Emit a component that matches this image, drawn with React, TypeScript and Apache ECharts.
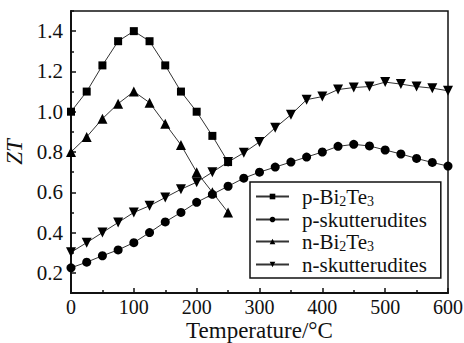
import React, { useEffect, useRef } from "react";
import * as echarts from "echarts";

const temps = [0, 25, 50, 75, 100, 125, 150, 175, 200, 225, 250, 275, 300, 325, 350, 375, 400, 425, 450, 475, 500, 525, 550, 575, 600];
const pBiTe = [1.0, 1.1, 1.23, 1.35, 1.4, 1.35, 1.23, 1.1, 1.0, 0.88, 0.75];
const nBiTe = [0.8, 0.875, 0.965, 1.04, 1.1, 1.045, 0.94, 0.835, 0.7, 0.6, 0.5];
const pSkut = [0.225, 0.253, 0.285, 0.314, 0.35, 0.4, 0.453, 0.5, 0.55, 0.59, 0.63, 0.67, 0.7, 0.725, 0.75, 0.775, 0.8, 0.828, 0.838, 0.83, 0.81, 0.79, 0.768, 0.748, 0.73];
const nSkut = [0.302, 0.35, 0.4, 0.45, 0.5, 0.533, 0.574, 0.615, 0.65, 0.7, 0.75, 0.796, 0.85, 0.92, 0.985, 1.06, 1.075, 1.11, 1.12, 1.125, 1.147, 1.137, 1.125, 1.117, 1.104];
const yLabels = [0.2, 0.4, 0.6, 0.8, 1.0, 1.2, 1.4];
const yMinor = [0.1, 0.3, 0.5, 0.7, 0.9, 1.1, 1.3, 1.5];

const FONT = "'Liberation Serif', 'Times New Roman', serif";

const pair = (ys: number[]) => ys.map((y, i) => [temps[i], y]);

export default function App() {
  const ref = useRef<HTMLDivElement>(null);
  useEffect(() => {
    const chart = echarts.init(ref.current!, null, { renderer: "svg" });
    const lineStyle = { color: "#333", width: 1 };
    const itemStyle = { color: "#000" };
    const mk = (name: string, data: number[], symbol: string, size: number, rot = 0) => ({
      name,
      type: "line",
      data: pair(data),
      symbol,
      symbolSize: size,
      symbolRotate: rot,
      lineStyle,
      itemStyle,
      z: 3,
    });
    chart.setOption({
      animation: false,
      textStyle: { fontFamily: FONT },
      grid: {
        left: 71,
        right: 16,
        top: 11,
        bottom: 50,
        containLabel: false,
        outerBoundsMode: "none",
        show: true,
        borderColor: "#111",
        borderWidth: 1.5,
        backgroundColor: "transparent",
      },
      legend: {
        orient: "vertical",
        left: 250,
        top: 182,
        padding: [4, 14, 3, 5],
        itemGap: 1,
        itemWidth: 33,
        itemHeight: 7,
        borderColor: "#111",
        borderWidth: 1.5,
        data: ["p-Bi2Te3", "p-skutterudites", "n-Bi2Te3", "n-skutterudites"],
        formatter: (name: string) => {
          if (name.indexOf("Bi2Te3") >= 0) {
            const p = name.charAt(0);
            return `{n|${p}-Bi}{s|2}{n|Te}{s|3}`;
          }
          return `{n|${name}}`;
        },
        textStyle: {
          fontFamily: FONT,
          fontSize: 21,
          color: "#111",
          padding: [0, 0, 0, 8],
          rich: {
            n: { fontFamily: FONT, fontSize: 21, color: "#111" },
            s: { fontFamily: FONT, fontSize: 14, color: "#111", padding: [9, 0, 0, 0] },
          },
        },
      },
      xAxis: {
        type: "value",
        min: 0,
        max: 600,
        interval: 100,
        name: "Temperature/°C",
        nameLocation: "middle",
        nameGap: 26,
        nameMoveOverlap: false,
        nameTextStyle: { fontFamily: FONT, fontSize: 23, lineHeight: 23, color: "#111" },
        axisLine: { show: true, lineStyle: { color: "#111", width: 2 } },
        axisTick: { show: true, inside: true, length: 5, lineStyle: { color: "#111", width: 1.5 } },
        minorTick: { show: true, splitNumber: 2, length: 3, lineStyle: { color: "#111", width: 1.5 } },
        axisLabel: { fontFamily: FONT, fontSize: 20, lineHeight: 18, color: "#111", margin: 5 },
        splitLine: { show: false },
      },
      yAxis: [
        {
          type: "value",
          min: 0.1,
          max: 1.5,
          name: "ZT",
          nameLocation: "middle",
          nameGap: 45,
          nameMoveOverlap: false,
          nameTextStyle: { fontFamily: FONT, fontSize: 23, fontStyle: "italic", color: "#111" },
          axisLine: { show: true, lineStyle: { color: "#111", width: 2 } },
          axisTick: { show: true, inside: true, length: 5, customValues: yLabels, lineStyle: { color: "#111", width: 1.5 } },
          axisLabel: {
            fontFamily: FONT,
            fontSize: 21,
            color: "#111",
            margin: 8,
            customValues: yLabels,
            formatter: (v: number) => v.toFixed(1),
          },
          splitLine: { show: false },
        },
        {
          type: "value",
          min: 0.1,
          max: 1.5,
          position: "left",
          axisLine: { show: false },
          axisTick: { show: true, inside: true, length: 3, customValues: yMinor, lineStyle: { color: "#111", width: 1.5 } },
          axisLabel: { show: false },
          splitLine: { show: false },
        },
      ],
      series: [
        mk("p-Bi2Te3", pBiTe, "rect", 8),
        mk("p-skutterudites", pSkut, "circle", 9),
        mk("n-Bi2Te3", nBiTe, "triangle", 10),
        mk("n-skutterudites", nSkut, "triangle", 10, 180),
      ],
    });
    return () => chart.dispose();
  }, []);
  return <div ref={ref} style={{ width: 464, height: 343, position: "absolute", left: 0, top: 0, background: "#fff" }} />;
}
